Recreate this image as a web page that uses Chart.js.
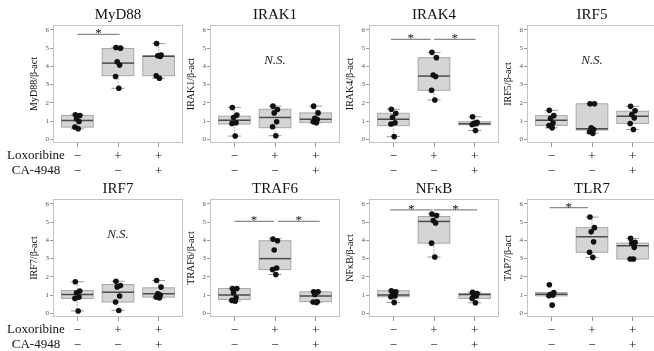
<!DOCTYPE html>
<html>
<head>
<meta charset="utf-8">
<script src="https://cdn.jsdelivr.net/npm/chart.js@4"></script>
<style>
	html, body { margin: 0; padding: 0; background: #fff; overflow: hidden; }
	#wrap { position: relative; width: 654px; height: 351px; }
	#wrap canvas { position: absolute; }
</style>
</head>
<body>
<div id="wrap"></div>
<script>
// panel names + axis titles
const geneNames = ['MyD88', 'IRAK1', 'IRAK4', 'IRF5', 'IRF7', 'TRAF6', 'NFκB', 'TLR7'];
const yTitles = ['MyD88/β-act', 'IRAK1/β-act', 'IRAK4/β-act', 'IRF5/β-act', 'IRF7/β-act', 'TRAF6/β-act', 'NFκB/β-act', 'TAP7/β-act'];

// treatment rows under each panel
const rowNames = ['Loxoribine', 'CA-4948'];
const loxLabels = ['−', '+', '+'];
const caLabels = ['−', '−', '+'];
const yTicks = [0, 1, 2, 3, 4, 5, 6];

// dots per group (ctrl, loxoribine, loxoribine + CA-4948)
const myd88Pts = [[1.35, 1.31, 1.13, 0.98, 0.67, 0.58], [5.04, 5.0, 4.25, 4.07, 3.45, 2.8], [5.25, 4.62, 4.58, 4.55, 3.49, 3.35]];
const irak1Pts = [[1.75, 1.33, 1.2, 0.91, 0.87, 0.18], [1.82, 1.64, 1.45, 0.96, 0.69, 0.2], [1.82, 1.45, 1.15, 1.09, 0.96, 0.91]];
const irak4Pts = [[1.65, 1.43, 1.21, 0.91, 0.84, 0.15], [4.77, 4.48, 3.53, 3.44, 2.69, 2.16], [1.24, 0.93, 0.88, 0.86, 0.8, 0.48]];
const irf5Pts = [[1.59, 1.3, 1.16, 0.9, 0.76, 0.63], [1.95, 1.95, 0.63, 0.54, 0.42, 0.33], [1.81, 1.57, 1.36, 1.18, 0.87, 0.54]];
const irf7Pts = [[1.73, 1.22, 1.13, 0.89, 0.82, 0.13], [1.76, 1.53, 1.45, 0.95, 0.62, 0.16], [1.8, 1.44, 1.07, 1.0, 0.89, 0.85]];
const traf6Pts = [[1.36, 1.36, 1.13, 0.85, 0.71, 0.67], [4.07, 3.98, 3.47, 2.49, 2.4, 2.13], [1.18, 1.18, 1.04, 0.64, 0.62, 0.6]];
const nfkbPts = [[1.24, 1.18, 1.0, 0.95, 0.91, 0.6], [5.45, 5.36, 5.09, 4.95, 3.85, 3.09], [1.15, 1.09, 1.05, 0.95, 0.82, 0.58]];
const tlr7Pts = [[1.57, 1.14, 1.05, 1.0, 0.96, 0.45], [5.28, 4.7, 4.47, 3.92, 3.35, 3.07], [4.11, 3.89, 3.85, 3.62, 2.98, 2.98]];

// box stats per group: [whisker lo, q1, median, q3, whisker hi]
const myd88Box = [[0.58, 0.67, 1.04, 1.31, 1.35], [2.8, 3.49, 4.18, 4.98, 5.04], [3.35, 3.49, 4.55, 4.58, 5.25]];
const irak1Box = [[0.18, 0.84, 1.05, 1.27, 1.75], [0.2, 0.64, 1.2, 1.65, 1.82], [0.91, 0.93, 1.1, 1.45, 1.82]];
const irak4Box = [[0.15, 0.75, 1.1, 1.43, 1.65], [2.16, 2.69, 3.47, 4.48, 4.77], [0.48, 0.8, 0.85, 0.97, 1.24]];
const irf5Box = [[0.63, 0.76, 1.05, 1.3, 1.59], [0.33, 0.51, 0.58, 1.95, 1.95], [0.54, 0.87, 1.27, 1.54, 1.81]];
const irf7Box = [[0.13, 0.82, 1.04, 1.25, 1.73], [0.16, 0.62, 1.16, 1.58, 1.76], [0.85, 0.89, 1.07, 1.4, 1.8]];
const traf6Box = [[0.67, 0.76, 1.0, 1.36, 1.36], [2.13, 2.4, 3.0, 3.98, 4.1], [0.6, 0.64, 0.95, 1.18, 1.18]];
const nfkbBox = [[0.6, 0.91, 1.0, 1.24, 1.24], [3.09, 3.85, 5.04, 5.31, 5.45], [0.58, 0.82, 1.04, 1.09, 1.15]];
const tlr7Box = [[0.96, 0.96, 1.05, 1.14, 1.14], [3.07, 3.35, 4.2, 4.7, 5.28], [2.98, 2.98, 3.71, 3.85, 4.11]];

// significance bars: [from group, to group, height]
const myd88Sig = [[1.0, 2.04, 5.76]];
const irak4Sig = [[0.94, 1.92, 5.48], [2.0, 3.02, 5.48]];
const traf6Sig = [[1.0, 1.97, 5.04], [2.07, 3.1, 5.04]];
const nfkbSig = [[0.92, 1.96, 5.67], [2.0, 3.06, 5.67]];
const tlr7Sig = [[0.96, 1.9, 5.8]];

// "N.S." label height (null = none)
const nsLevels = [null, 4.33, null, 4.34, 4.31, null, null, null];

const allPts = [myd88Pts, irak1Pts, irak4Pts, irf5Pts, irf7Pts, traf6Pts, nfkbPts, tlr7Pts];
const allBoxes = [myd88Box, irak1Box, irak4Box, irf5Box, irf7Box, traf6Box, nfkbBox, tlr7Box];
const allSig = [myd88Sig, [], irak4Sig, [], [], traf6Sig, nfkbSig, tlr7Sig];

// small horizontal spread so dots dont sit on top of each other
const jitter = [-0.05, 0.06, -0.02, 0.04, -0.06, 0.02];

const FONT = '"Liberation Serif", "DejaVu Serif", "Times New Roman", serif';

const frameLefts = [53, 210, 369, 527];
const frameW = 132;
const rowTops = [0, 174];
const rowHeights = [180, 177];
const padTop = 25;
const areaH = 118;
const yAxisW = 25;

function makePanelPlugin(idx, col) {
	const boxes = allBoxes[idx];
	const sig = allSig[idx];
	const ns = nsLevels[idx];

	return {
		id: 'panel' + idx,
		beforeDatasetsDraw(chart) {
			const { ctx, chartArea: a, scales: { x, y } } = chart;
			ctx.save();

			// frame
			ctx.strokeStyle = '#c4c4c4';
			ctx.lineWidth = 1;
			ctx.strokeRect(a.left + 0.5, a.top + 0.5, a.width - 1, a.height - 1);

			boxes.forEach((b, i) => {
				const g = i + 1;
				const [lo, q1, med, q3, hi] = b;
				const cx = x.getPixelForValue(g);
				const bl = x.getPixelForValue(g - 0.39);
				const br = x.getPixelForValue(g + 0.39);
				const cl = x.getPixelForValue(g - 0.16);
				const cr = x.getPixelForValue(g + 0.16);

				// whiskers
				ctx.strokeStyle = '#9a9a9a';
				ctx.lineWidth = 1;
				ctx.setLineDash([1.5, 1.5]);
				ctx.beginPath();
				ctx.moveTo(cx, y.getPixelForValue(hi));
				ctx.lineTo(cx, y.getPixelForValue(q3));
				ctx.moveTo(cx, y.getPixelForValue(q1));
				ctx.lineTo(cx, y.getPixelForValue(lo));
				ctx.stroke();
				ctx.setLineDash([]);
				ctx.beginPath();
				ctx.moveTo(cl, y.getPixelForValue(hi));
				ctx.lineTo(cr, y.getPixelForValue(hi));
				ctx.moveTo(cl, y.getPixelForValue(lo));
				ctx.lineTo(cr, y.getPixelForValue(lo));
				ctx.stroke();

				// box
				const top = y.getPixelForValue(q3);
				const bot = y.getPixelForValue(q1);
				ctx.fillStyle = '#d5d5d5';
				ctx.fillRect(bl, top, br - bl, bot - top);
				ctx.strokeStyle = '#a8a8a8';
				ctx.strokeRect(bl, top, br - bl, bot - top);

				// median
				ctx.strokeStyle = '#4a4a4a';
				ctx.lineWidth = 1.5;
				ctx.beginPath();
				ctx.moveTo(bl, y.getPixelForValue(med));
				ctx.lineTo(br, y.getPixelForValue(med));
				ctx.stroke();
			});

			// significance bars
			sig.forEach(([from, to, lvl]) => {
				const py = y.getPixelForValue(lvl);
				const x1 = x.getPixelForValue(from);
				const x2 = x.getPixelForValue(to);
				ctx.strokeStyle = '#8a8a8a';
				ctx.lineWidth = 1.2;
				ctx.beginPath();
				ctx.moveTo(x1, py);
				ctx.lineTo(x2, py);
				ctx.stroke();
				ctx.fillStyle = '#111';
				ctx.font = `13px ${FONT}`;
				ctx.textAlign = 'center';
				ctx.textBaseline = 'alphabetic';
				ctx.fillText('*', (x1 + x2) / 2, py + 3);
			});

			if (ns !== null) {
				ctx.fillStyle = '#222';
				ctx.font = `italic 13px ${FONT}`;
				ctx.textAlign = 'center';
				ctx.textBaseline = 'middle';
				ctx.fillText('N.S.', (a.left + a.right) / 2, y.getPixelForValue(ns));
			}

			ctx.restore();
		},
		afterDraw(chart) {
			const { ctx, chartArea: a } = chart;
			ctx.save();
			ctx.fillStyle = '#111';
			ctx.font = `15px ${FONT}`;
			ctx.textAlign = 'center';
			ctx.textBaseline = 'middle';
			ctx.fillText(geneNames[idx], (a.left + a.right) / 2, a.top - 10);

			// treatment names left of first column
			if (col === 0) {
				ctx.font = `13px ${FONT}`;
				ctx.fillText(rowNames[0], 36, a.bottom + 13);
				ctx.fillText(rowNames[1], 36, a.bottom + 28);
			}
			ctx.restore();
		}
	};
}

function buildPanel(idx) {
	const row = Math.floor(idx / 4);
	const col = idx % 4;
	const frameLeft = frameLefts[col];
	const canvasLeft = col === 0 ? 0 : frameLeft - yAxisW - 3;
	const canvasW = frameLeft + frameW + 2 - canvasLeft;
	const canvasH = rowHeights[row];
	const xH = canvasH - padTop - areaH;

	const canvas = document.createElement('canvas');
	canvas.width = canvasW;
	canvas.height = canvasH;
	canvas.style.left = canvasLeft + 'px';
	canvas.style.top = rowTops[row] + 'px';
	canvas.style.width = canvasW + 'px';
	canvas.style.height = canvasH + 'px';
	document.getElementById('wrap').appendChild(canvas);

	const pts = [];
	allPts[idx].forEach((group, gi) => {
		group.forEach((v, k) => {
			pts.push({ x: gi + 1 + jitter[k % jitter.length], y: v });
		});
	});

	new Chart(canvas.getContext('2d'), {
		type: 'scatter',
		data: {
			datasets: [{
				data: pts,
				pointRadius: 2.8,
				pointBackgroundColor: '#111',
				pointBorderWidth: 0
			}]
		},
		options: {
			responsive: false,
			animation: false,
			devicePixelRatio: 1,
			layout: {
				padding: { left: frameLeft - canvasLeft - yAxisW, top: padTop, right: 2, bottom: 0 }
			},
			plugins: {
				legend: { display: false },
				tooltip: { enabled: false }
			},
			scales: {
				x: {
					type: 'linear',
					min: 0.4,
					max: 3.6,
					afterBuildTicks: (s) => { s.ticks = [1, 2, 3].map(v => ({ value: v })); },
					afterFit: (s) => { s.height = xH; },
					border: { display: false },
					grid: { drawOnChartArea: false, drawTicks: true, tickLength: 4, tickColor: '#999' },
					ticks: {
						autoSkip: false,
						maxRotation: 0,
						padding: 2,
						color: '#111',
						font: { family: FONT, size: 13, lineHeight: 1.15 },
						callback: (v, i) => [loxLabels[i], caLabels[i]]
					}
				},
				y: {
					min: -0.2,
					max: 6.27,
					afterBuildTicks: (s) => { s.ticks = yTicks.map(v => ({ value: v })); },
					afterFit: (s) => { s.width = yAxisW; },
					border: { display: false },
					grid: { drawOnChartArea: false, drawTicks: true, tickLength: 3, tickColor: '#999' },
					ticks: {
						padding: 1,
						color: '#555',
						font: { family: FONT, size: 7 }
					},
					title: {
						display: true,
						text: yTitles[idx],
						color: '#111',
						padding: 0,
						font: { family: FONT, size: 10 }
					}
				}
			}
		},
		plugins: [makePanelPlugin(idx, col)]
	});
}

for (let i = 0; i < geneNames.length; i++) {
	buildPanel(i);
}
</script>
</body>
</html>
